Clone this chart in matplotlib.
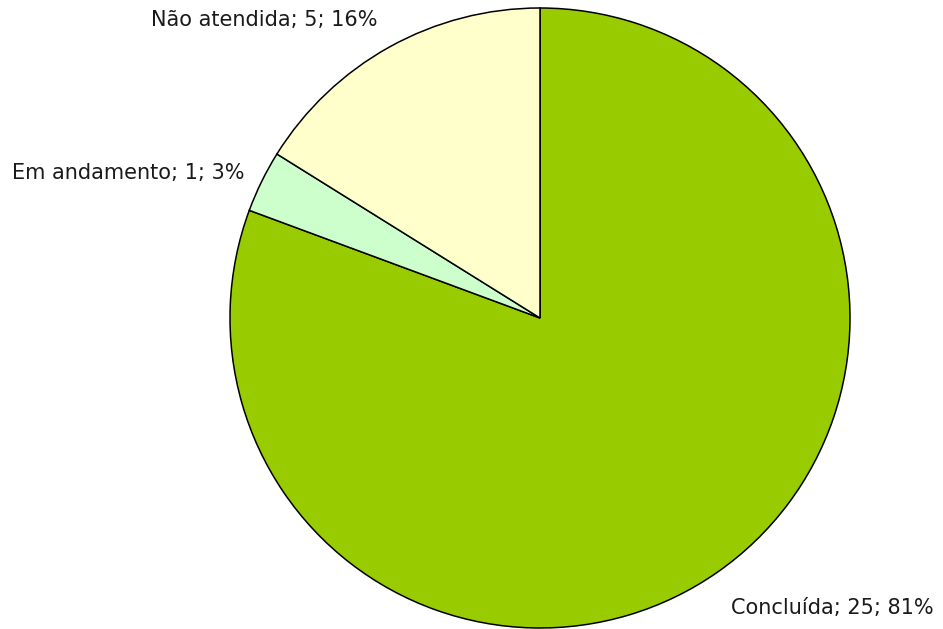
import numpy as np
import matplotlib
matplotlib.use("Agg")
import matplotlib.pyplot as plt

categories = ["Concluída", "Em andamento", "Não atendida"]
values = [25, 1, 5]
colors = ["#99CC00", "#CCFFCC", "#FFFFCC"]

W, H = 943, 629
cx, cy, r = 540, 311, 310  # pie centre (pixels from bottom-left) and radius

fig = plt.figure(figsize=(W / 100, H / 100), dpi=100)
ax = fig.add_axes([0, 0, 1, 1])

wedges, _ = ax.pie(values, colors=colors, startangle=90, counterclock=False,
                   radius=1.0, wedgeprops=dict(edgecolor="black", linewidth=1.1))
ax.set_xlim(-cx / r, (W - cx) / r)
ax.set_ylim(-cy / r, (H - cy) / r)
ax.set_aspect("equal")
ax.axis("off")

total = sum(values)
# label distance and small angular nudge (degrees) for each slice
label_r = [1.12, 1.06, 1.095]
label_da = [-1.5, 0.0, -0.5]
for w, name, v, lr, da in zip(wedges, categories, values, label_r, label_da):
    mid = np.deg2rad((w.theta1 + w.theta2) / 2 + da)
    x, y = lr * np.cos(mid), lr * np.sin(mid)
    ha = "left" if x > 0 else "right"
    ax.text(x, y, f"{name}; {v}; {round(100 * v / total)}%", ha=ha, va="center",
            fontsize=15, family=["DejaVu Sans"], color="#1a1a1a")

fig.savefig("out.png", dpi=100)
